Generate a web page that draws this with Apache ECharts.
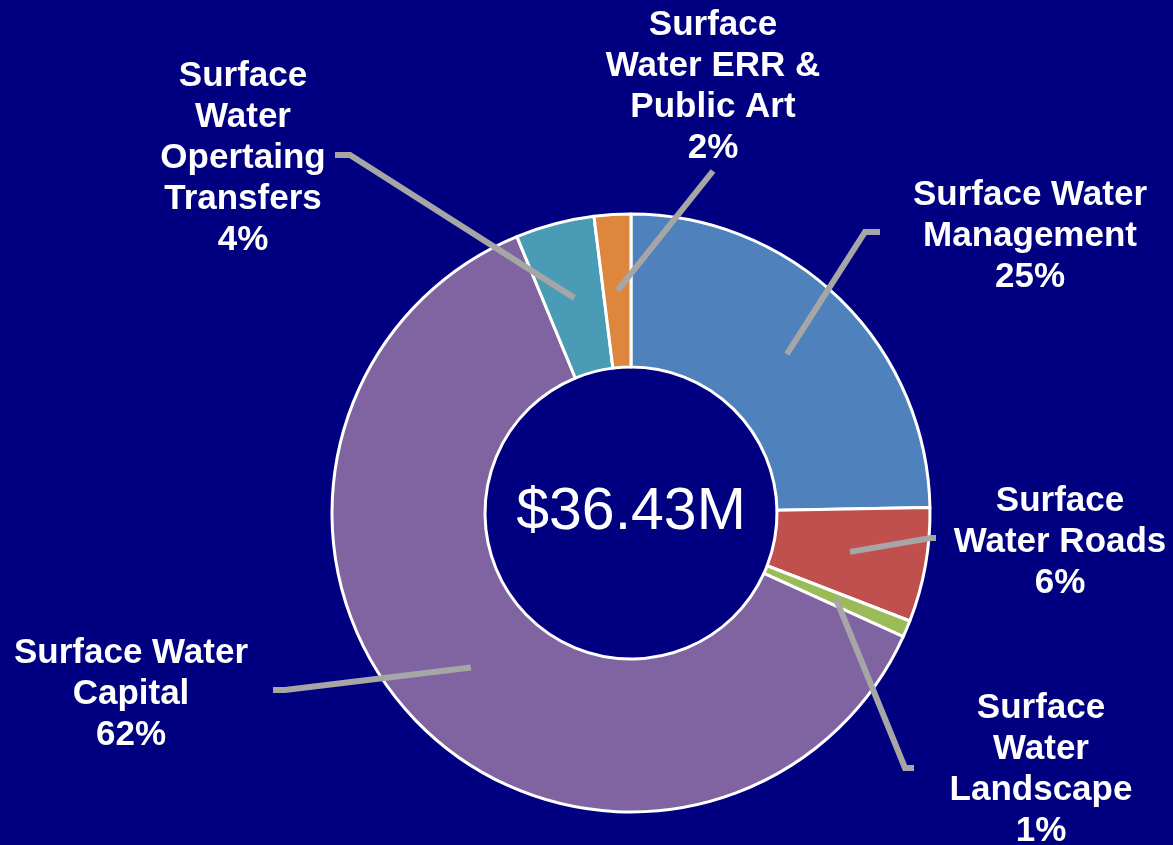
<!DOCTYPE html>
<html><head><meta charset="utf-8">
<script src="https://cdn.jsdelivr.net/npm/echarts@6/dist/echarts.min.js"></script>
<style>html,body{margin:0;padding:0;background:#000080;overflow:hidden}#c{width:1173px;height:845px}</style>
</head><body><div id="c"></div>
<script>
// ---- data ----
const categories = [
  'Surface Water\nManagement',
  'Surface\nWater Roads',
  'Surface\nWater\nLandscape',
  'Surface Water\nCapital',
  'Surface\nWater\nOpertaing\nTransfers',
  'Surface\nWater ERR &\nPublic Art'
];
const values = [9.0, 2.25, 0.33, 22.58, 1.55, 0.72]; // $M
const totalLabel = '$36.43M';

// ---- style / layout ----
const colors = ['#4F81BD', '#C0504D', '#9BBB59', '#8064A2', '#4A9BB5', '#DD873E'];
// [labelX, labelY, elbowX, elbowY, endX, endY]
const labelSpots = [
  [1030, 236, 865, 232, 880, 232],
  [1060, 542, 931, 538, 936, 538],
  [1041, 770, 905, 768, 914, 768],
  [131, 694, 285, 690, 273, 690],
  [243, 158, 350, 155, 335, 155],
  [713, 87, 713, 171, 713, 171]
];
const CX = 631, CY = 513, R0 = 146, R1 = 299;

const total = values.reduce((a, b) => a + b, 0);
const mids = []; let acc = 0;
values.forEach(v => { mids.push((acc + v / 2) / total * 2 * Math.PI); acc += v; });
function ringPoint(i) {
  const r = (R0 + R1) / 2, a = mids[i];
  return [CX + r * Math.sin(a), CY - r * Math.cos(a)];
}

const chart = echarts.init(document.getElementById('c'));
chart.setOption({
  backgroundColor: '#000080',
  animation: false,
  graphic: [{
    type: 'text', x: CX, y: CY, z: 10,
    style: { text: totalLabel, fill: '#ffffff', font: '59px "Liberation Sans", Arial, sans-serif',
             align: 'center', verticalAlign: 'middle' }
  }],
  series: [{
    type: 'pie',
    z: 2,
    center: [CX, CY],
    radius: [R0, R1],
    startAngle: 90,
    clockwise: true,
    label: { show: false },
    labelLine: { show: false },
    itemStyle: { borderColor: '#ffffff', borderWidth: 3 },
    emphasis: { disabled: true },
    data: values.map((v, i) => ({ value: v, name: categories[i], itemStyle: { color: colors[i] } }))
  }, {
    type: 'pie',
    z: 5,
    center: [CX, CY],
    radius: [R0, R1],
    startAngle: 90,
    clockwise: true,
    silent: true,
    avoidLabelOverlap: false,
    itemStyle: { color: 'rgba(0,0,0,0)', borderWidth: 0 },
    label: {
      show: true,
      position: 'outside',
      color: '#ffffff',
      fontFamily: '"Liberation Sans", Arial, sans-serif',
      fontWeight: 'bold',
      fontSize: 35,
      lineHeight: 41,
      align: 'center',
      formatter: p => categories[p.dataIndex] + '\n' + Math.round(values[p.dataIndex] / total * 100) + '%'
    },
    labelLine: { show: true, length: 10, length2: 10, lineStyle: { color: '#A6A6A6', width: 6 } },
    labelLayout: function (p) {
      const s = labelSpots[p.dataIndex];
      return {
        x: s[0], y: s[1], align: 'center', verticalAlign: 'middle',
        labelLinePoints: [ringPoint(p.dataIndex), [s[2], s[3]], [s[4], s[5]]]
      };
    },
    emphasis: { disabled: true },
    data: values.map((v, i) => ({ value: v, name: categories[i] }))
  }]
});
</script>
</body></html>
